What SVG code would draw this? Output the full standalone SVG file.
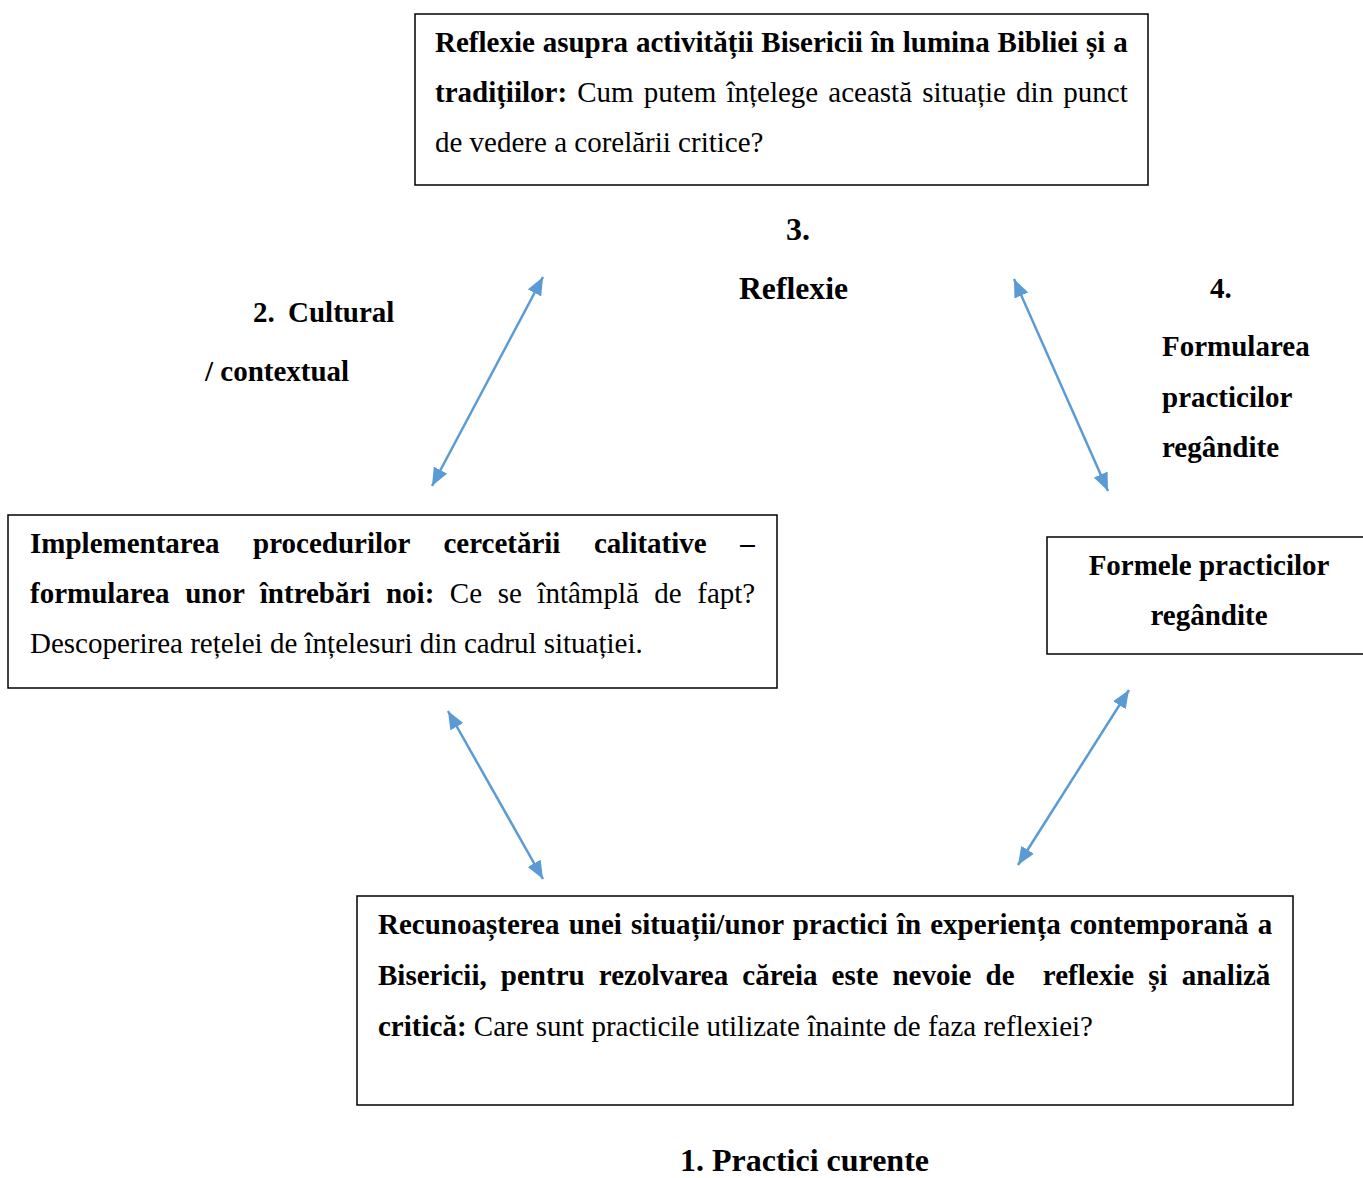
<svg xmlns="http://www.w3.org/2000/svg" width="1363" height="1178" viewBox="0 0 1363 1178">
<style>
text{font-family:"Liberation Serif","Times New Roman",serif;font-size:29px;fill:#000}
.b{font-weight:bold}
.lbl{font-weight:bold;font-size:29px}
.big{font-weight:bold;font-size:32px}
.box{fill:#fff;stroke:#000;stroke-width:1.5}
.arr{stroke:#5B9BD5;stroke-width:2.5;fill:none;marker-start:url(#ah);marker-end:url(#ah)}
</style>
<defs>
<marker id="ah" viewBox="0 0 18 15" refX="18" refY="7.5" markerWidth="18" markerHeight="15" orient="auto-start-reverse" markerUnits="userSpaceOnUse">
<path d="M0,0 L18,7.5 L0,15 z" fill="#5B9BD5"/>
</marker>
</defs>
<rect width="1363" height="1178" fill="#fff"/>

<g id="connectors">
<line class="arr" x1="432" y1="486" x2="543" y2="277"/>
<line class="arr" x1="1014" y1="279" x2="1108" y2="491"/>
<line class="arr" x1="448" y1="711" x2="543" y2="879"/>
<line class="arr" x1="1129" y1="690" x2="1018" y2="865"/>
</g>

<g id="node-reflexie">
<rect class="box" x="415" y="14" width="733" height="171"/>
<text class="b" x="435" y="52" word-spacing="0.6">Reflexie asupra activității Bisericii în lumina Bibliei și a</text>
<text x="435" y="102" word-spacing="2.9"><tspan class="b">tradițiilor:</tspan> Cum putem înțelege această situație din punct</text>
<text x="435" y="152">de vedere a corelării critice?</text>
</g>

<g id="label-3">
<text class="big" x="798" y="240" text-anchor="middle">3.</text>
<text class="big" x="739" y="299" textLength="109" lengthAdjust="spacingAndGlyphs">Reflexie</text>
</g>

<g id="label-2">
<text class="lbl" x="253" y="322">2.</text>
<text class="lbl" x="288" y="322">Cultural</text>
<text class="lbl" x="205" y="381">/ contextual</text>
</g>

<g id="label-4">
<text class="lbl" x="1210" y="298">4.</text>
<text class="lbl" x="1162" y="356">Formularea</text>
<text class="lbl" x="1162" y="407">practicilor</text>
<text class="lbl" x="1162" y="457">regândite</text>
</g>

<g id="node-implementare">
<rect class="box" x="8" y="515" width="769" height="173"/>
<text class="b" x="30" y="553" word-spacing="26.3">Implementarea procedurilor cercetării calitative –</text>
<text x="30" y="603" word-spacing="8.3"><tspan class="b">formularea unor întrebări noi:</tspan> Ce se întâmplă de fapt?</text>
<text x="30" y="653">Descoperirea rețelei de înțelesuri din cadrul situației.</text>
</g>

<g id="node-formele">
<rect class="box" x="1047" y="537" width="320" height="117"/>
<text class="b" x="1209" y="575" text-anchor="middle">Formele practicilor</text>
<text class="b" x="1209" y="625" text-anchor="middle">regândite</text>
</g>

<g id="node-recunoastere">
<rect class="box" x="357" y="896" width="936" height="209"/>
<text class="b" x="378" y="934" word-spacing="1.9">Recunoașterea unei situații/unor practici în experiența contemporană a</text>
<text class="b" x="378" y="985" word-spacing="6.9" xml:space="preserve">Bisericii, pentru rezolvarea căreia este nevoie de  reflexie și analiză</text>
<text x="378" y="1036"><tspan class="b">critică:</tspan> Care sunt practicile utilizate înainte de faza reflexiei?</text>
</g>

<g id="label-1">
<text class="big" x="680" y="1171" textLength="249" lengthAdjust="spacingAndGlyphs">1. Practici curente</text>
</g>
</svg>
